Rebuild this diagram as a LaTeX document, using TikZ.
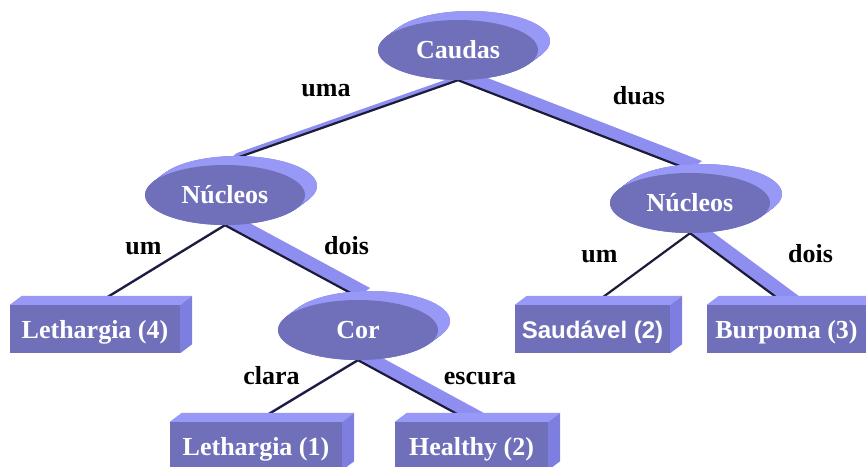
\documentclass[tikz,border=0pt]{standalone}
\usepackage{fontspec}
\setmainfont{Liberation Serif}
\newfontfamily\arialbf{Liberation Sans}
\usetikzlibrary{shapes.geometric,calc}
\pgfdeclarelayer{edges}
\pgfdeclarelayer{back}
\pgfsetlayers{edges,back,main}
\definecolor{frontc}{RGB}{112,112,186}
\definecolor{topc}{RGB}{152,152,246}
\definecolor{sidec}{RGB}{126,126,224}
\definecolor{bandc}{RGB}{142,142,240}
\definecolor{linec}{RGB}{28,28,58}
\newcommand{\treeconn}[2]{%
  \fill[bandc] (#1) -- (#2) -- ($(#2)+(12,-9)$) -- ($(#1)+(12,-9)$) -- cycle;
  \draw[linec, line width=2.2pt] (#1) -- (#2);}
\begin{document}
\begin{tikzpicture}[x=1pt,y=-1pt,
  bigfont/.style={font=\fontsize{26}{30}\selectfont\bfseries},
  ell/.style={ellipse, fill=frontc, minimum width=160pt, minimum height=60pt,
    inner sep=0pt, text=white, bigfont, text height=17pt, text depth=0pt},
  box/.style={rectangle, fill=frontc, minimum height=48pt, inner sep=0pt,
    text=white, bigfont, text height=18pt, text depth=0pt},
  lbl/.style={anchor=base, bigfont, text=black, inner sep=0pt}]
\useasboundingbox (0,0) rectangle (866,466);

% nodes (front faces)
\node[ell] (caudas) at (458,50) {Caudas};
\node[ell] (nucA) at (225,195) {Núcleos};
\node[ell] (nucB) at (690,203) {Núcleos};
\node[ell] (cor) at (358,330) {Cor};
\node[box, minimum width=170pt] (leth4) at (95,329) {Lethargia (4)};
\node[box, minimum width=155pt, font=\arialbf\fontsize{24}{28}\selectfont\bfseries, text height=19pt] (saud) at (592.5,329) {Saudável (2)};
\node[box, minimum width=159pt] (burp) at (786.5,329) {Burpoma (3)};
\node[box, minimum width=172pt] (leth1) at (256,446) {Lethargia (1)};
\node[box, minimum width=153pt] (heal) at (471.5,446) {Healthy (2)};

% connector end points
\coordinate (nucA-t) at ($(nucA.center)+(0,-33)$);
\coordinate (nucB-t) at ($(nucB.center)+(0,-33)$);
\coordinate (cor-t) at ($(cor.center)+(0,-33)$);

% 3D backs
\begin{pgfonlayer}{back}
\foreach \n in {caudas,nucA,nucB,cor}{
  \foreach \k in {0,1,...,20}
    \fill[sidec] ($(\n.center)+(\k*0.6,-\k*0.45)$) ellipse [x radius=80pt, y radius=30pt];
  \fill[topc] ($(\n.center)+(12,-9)$) ellipse [x radius=80pt, y radius=30pt];
}
\foreach \n in {leth4,saud,burp,leth1,heal}{
  \fill[topc] (\n.north west) -- ($(\n.north west)+(12,-9)$) -- ($(\n.north east)+(12,-9)$) -- (\n.north east) -- cycle;
  \fill[sidec] (\n.north east) -- ($(\n.north east)+(12,-9)$) -- ($(\n.south east)+(12,-9)$) -- (\n.south east) -- cycle;
}
\end{pgfonlayer}

% connectors
\begin{pgfonlayer}{edges}
\treeconn{caudas.south}{nucA-t}
\treeconn{caudas.south}{nucB-t}
\treeconn{nucA.south}{leth4.north}
\treeconn{nucA.south}{cor-t}
\treeconn{nucB.south}{saud.north}
\treeconn{nucB.south}{burp.north}
\treeconn{cor.south}{leth1.north}
\treeconn{cor.south}{heal.north}
\end{pgfonlayer}

% edge labels
\node[lbl] (l-uma) at (326,96) {uma};
\node[lbl] (l-duas) at (639,104) {duas};
\node[lbl] (l-um1) at (143.5,254) {um};
\node[lbl] (l-dois1) at (346.5,254) {dois};
\node[lbl] (l-clara) at (271.5,384) {clara};
\node[lbl] (l-escura) at (480,384) {escura};
\node[lbl] (l-um2) at (599.5,262) {um};
\node[lbl] (l-dois2) at (810.5,262) {dois};
\end{tikzpicture}
\end{document}
